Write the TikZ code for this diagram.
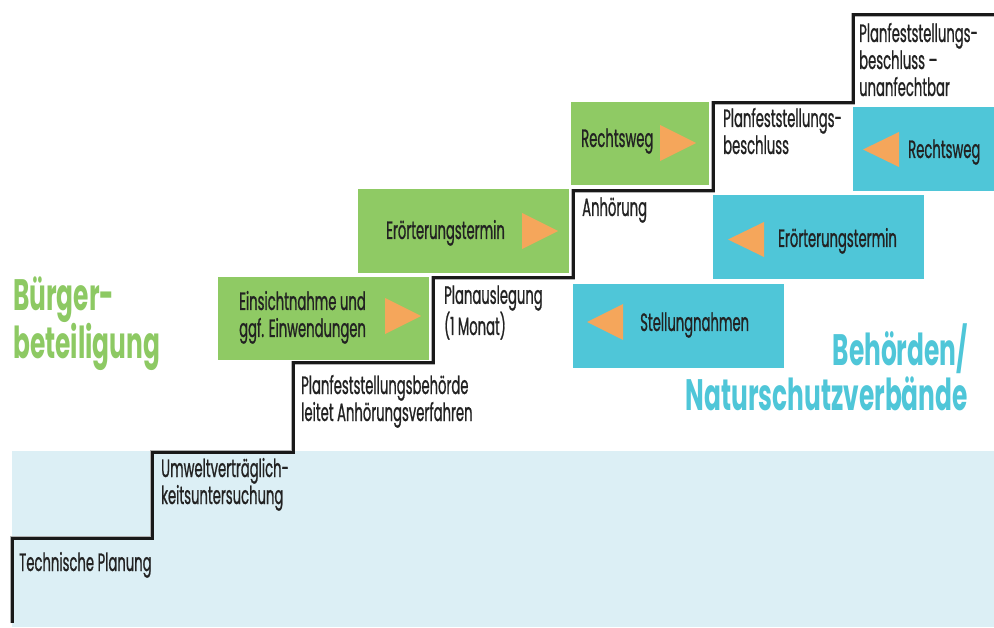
\documentclass[tikz,border=0pt]{standalone}
\usepackage{fontspec}
\setmainfont[FakeStretch=0.527,FakeBold=0.8]{Poppins}
\newfontfamily\headfont[FakeStretch=0.565]{Poppins}
\definecolor{boxgreen}{HTML}{8FCA64}
\definecolor{boxblue}{HTML}{4FC6D8}
\definecolor{arrorange}{HTML}{F5A65B}
\definecolor{bgblue}{HTML}{DCEFF5}
\definecolor{txt}{HTML}{222222}
\definecolor{headgreen}{HTML}{8DC963}
\begin{document}
\begin{tikzpicture}[x=1pt,y=-1pt,
  lbl/.style={anchor=base west,inner sep=0pt,align=left,text=txt,font=\fontsize{25}{27}\selectfont},
  gbox/.style={fill=boxgreen,draw=none,anchor=north west,inner sep=0pt},
  bbox/.style={fill=boxblue,draw=none,anchor=north west,inner sep=0pt},
  tri/.style={fill=arrorange,draw=none},
  head/.style={inner sep=0pt,font=\headfont\bfseries\fontsize{44}{45}\selectfont}
]
\useasboundingbox (0,0) rectangle (994,628);
% background
\fill[bgblue] (12,451) rectangle (994,627);
% staircase
\coordinate (s0) at (12,623);
\coordinate (s1) at (12,538);
\coordinate (s2) at (152,538);
\coordinate (s3) at (152,452);
\coordinate (s4) at (293,452);
\coordinate (s5) at (293,363);
\coordinate (s6) at (433,363);
\coordinate (s7) at (433,278);
\coordinate (s8) at (573,278);
\coordinate (s9) at (573,191);
\coordinate (s10) at (713,191);
\coordinate (s11) at (713,103);
\coordinate (s12) at (853,103);
\coordinate (s13) at (853,15);
\coordinate (s14) at (994,15);
\draw[line width=4.4pt,black!30,line join=miter] (s0)--(s1)--(s2)--(s3)--(s4)--(s5)--(s6)--(s7)--(s8)--(s9)--(s10)--(s11)--(s12)--(s13)--(s14);
\draw[line width=3pt,black!90,line join=miter] (s0)--(s1)--(s2)--(s3)--(s4)--(s5)--(s6)--(s7)--(s8)--(s9)--(s10)--(s11)--(s12)--(s13)--(s14);
% green boxes
\node[gbox,minimum width=211pt,minimum height=83pt] (g1) at (218,277) {};
\node[gbox,minimum width=211pt,minimum height=84pt] (g2) at (358,189) {};
\node[gbox,minimum width=138pt,minimum height=83pt] (g3) at (571,102) {};
% blue boxes
\node[bbox,minimum width=211pt,minimum height=84pt] (b1) at (573,284) {};
\node[bbox,minimum width=211pt,minimum height=84pt] (b2) at (713,195) {};
\node[bbox,minimum width=141pt,minimum height=84pt] (b3) at (853,107) {};
% triangles
\fill[tri] (385,298) -- (421,316) -- (385,334) -- cycle;
\fill[tri] (522,213) -- (558,231) -- (522,249) -- cycle;
\fill[tri] (660,125) -- (696,143) -- (660,161) -- cycle;
\fill[tri] (899,132) -- (863,149.5) -- (899,167) -- cycle;
\fill[tri] (764,222) -- (728,239.5) -- (764,257) -- cycle;
\fill[tri] (623,304) -- (587,322) -- (623,340) -- cycle;
% step labels (anchor = baseline of last line)
\node[lbl] (t1) at (19,571) {Technische Planung};
\node[lbl] (t2) at (161,504) {Umweltverträglich-\\keitsuntersuchung};
\node[lbl] (t3) at (301,421) {Planfeststellungsbehörde\\leitet Anhörungsverfahren};
\node[lbl] (t4) at (444,335) {Planauslegung\\(1 Monat)};
\node[lbl] (t5) at (582,216) {Anhörung};
\node[lbl] (t6) at (723,154) {Planfeststellungs-\\beschluss};
\node[lbl] (t7) at (859,96) {Planfeststellungs-\\beschluss –\\unanfechtbar};
% box labels
\node[lbl] (g1t) at (239,337) {Einsichtnahme und\\ggf. Einwendungen};
\node[lbl] (g2t) at (386,239) {Erörterungstermin};
\node[lbl] (g3t) at (581,147) {Rechtsweg};
\node[lbl] (b3t) at (908,158) {Rechtsweg};
\node[lbl] (b2t) at (778,247) {Erörterungstermin};
\node[lbl] (b1t) at (640,331) {Stellungnahmen};
% headings
\node[head,anchor=base west,align=left,text=headgreen] (h1) at (13,359) {Bürger-\\beteiligung};
\node[head,anchor=base east,align=right,text=boxblue] (h2) at (968,410) {Behörden/\\Naturschutzverbände};
\end{tikzpicture}
\end{document}
